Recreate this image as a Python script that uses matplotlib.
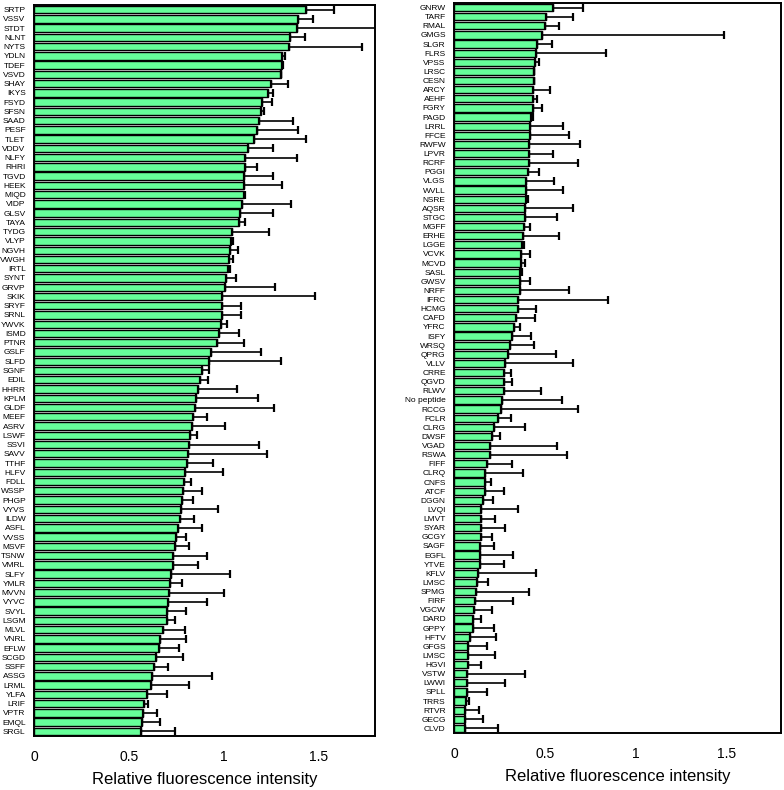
import matplotlib.pyplot as plt
import numpy as np

plt.rcParams['font.family'] = ['Liberation Sans', 'DejaVu Sans']

# left panel: peptide, mean, upper end of error bar
left_names = ["SRTP", "VSSV", "STDT", "NLNT", "NYTS", "YDLN", "TDEF", "VSVD", "SHAY", "IKYS",
              "FSYD", "SFSN", "SAAD", "PESF", "TLET", "VDDV", "NLFY", "RHRI", "TGVD", "HEEK",
              "MIQD", "VIDP", "GLSV", "TAYA", "TYDG", "VLYP", "NGVH", "VWGH", "IRTL", "SYNT",
              "GRVP", "SKIK", "SRYF", "SRNL", "YWVK", "ISMD", "PTNR", "GSLF", "SLFD", "SGNF",
              "EDIL", "HHRR", "KPLM", "GLDF", "MEEF", "ASRV", "LSWF", "SSVI", "SAVV", "TTHF",
              "HLFV", "FDLL", "WSSP", "PHGP", "VYVS", "ILDW", "ASFL", "VVSS", "MSVF", "TSNW",
              "VMRL", "SLFY", "YMLR", "MVVN", "VYVC", "SVYL", "LSGM", "MLVL", "VNRL", "EFLW",
              "SCGD", "SSFF", "ASSG", "LRML", "YLFA", "LRIF", "VPTR", "EMQL", "SRGL"]
left_vals = [1.435, 1.396, 1.388, 1.353, 1.346, 1.311, 1.309, 1.305, 1.249, 1.237,
             1.205, 1.198, 1.188, 1.179, 1.160, 1.130, 1.116, 1.114, 1.111, 1.107,
             1.107, 1.096, 1.088, 1.082, 1.044, 1.040, 1.032, 1.028, 1.026, 1.016,
             1.007, 0.995, 0.991, 0.991, 0.988, 0.979, 0.968, 0.935, 0.926, 0.886,
             0.875, 0.867, 0.856, 0.849, 0.840, 0.835, 0.821, 0.818, 0.812, 0.807,
             0.796, 0.793, 0.786, 0.779, 0.775, 0.770, 0.760, 0.747, 0.744, 0.733,
             0.732, 0.723, 0.719, 0.711, 0.709, 0.702, 0.700, 0.679, 0.663, 0.661,
             0.646, 0.633, 0.625, 0.616, 0.595, 0.581, 0.574, 0.568, 0.567]
left_top = [1.584, 1.474, 1.95, 1.432, 1.733, 1.326, 1.312, 1.305, 1.340, 1.260,
            1.256, 1.212, 1.365, 1.393, 1.435, 1.260, 1.389, 1.175, 1.260, 1.309,
            1.116, 1.358, 1.263, 1.112, 1.239, 1.053, 1.077, 1.053, 1.035, 1.067,
            1.270, 1.484, 1.091, 1.091, 1.019, 1.082, 1.107, 1.200, 1.304, 0.923,
            0.916, 1.070, 1.182, 1.268, 0.912, 1.007, 0.863, 1.186, 1.232, 0.947,
            1.000, 0.828, 0.888, 0.839, 0.972, 0.844, 0.888, 0.804, 0.819, 0.914,
            0.867, 1.037, 0.781, 1.002, 0.914, 0.802, 0.742, 0.798, 0.804, 0.765,
            0.788, 0.707, 0.937, 0.816, 0.702, 0.600, 0.647, 0.663, 0.746]

# right panel
right_names = ["GNRW", "TARF", "RMAL", "GMGS", "SLGR", "FLRS", "VPSS", "LRSC", "CESN", "ARCY",
               "AEHF", "FGRY", "PAGD", "LRRL", "FFCE", "RWFW", "LPVR", "RCRF", "PGGI", "VLGS",
               "WVLL", "NSRE", "AQSR", "STGC", "MGFF", "ERHE", "LGGE", "VCVK", "MCVD", "SASL",
               "GWSV", "NRFF", "IFRC", "HCMG", "CAFD", "YFRC", "ISFY", "WRSQ", "QPRG", "VLLV",
               "CRRE", "QGVD", "RLWV", "No peptide", "RCCG", "FCLR", "CLRG", "DWSF", "VGAD", "RSWA",
               "FIFF", "CLRQ", "CNFS", "ATCF", "DGGN", "LVQI", "LMVT", "SYAR", "GCGY", "SAGF",
               "EGFL", "YTVE", "KFLV", "LMSC", "SPMG", "FIRF", "VGCW", "DARD", "GPPY", "HFTV",
               "GFGS", "LMSC", "HGVI", "VSTW", "LWWI", "SPLL", "TRRS", "RTVR", "GECG", "CLVD"]
right_vals = [0.547, 0.508, 0.501, 0.483, 0.459, 0.449, 0.446, 0.440, 0.438, 0.435,
              0.433, 0.433, 0.422, 0.420, 0.418, 0.413, 0.413, 0.411, 0.405, 0.398,
              0.396, 0.396, 0.392, 0.390, 0.387, 0.381, 0.374, 0.370, 0.368, 0.365,
              0.363, 0.363, 0.354, 0.352, 0.344, 0.331, 0.319, 0.306, 0.297, 0.282,
              0.276, 0.274, 0.273, 0.262, 0.256, 0.241, 0.221, 0.210, 0.197, 0.199,
              0.179, 0.173, 0.171, 0.171, 0.160, 0.151, 0.151, 0.149, 0.149, 0.145,
              0.142, 0.142, 0.134, 0.125, 0.120, 0.118, 0.112, 0.105, 0.103, 0.088,
              0.077, 0.077, 0.076, 0.074, 0.074, 0.072, 0.066, 0.063, 0.063, 0.061]
right_top = [0.711, 0.656, 0.578, 1.488, 0.540, 0.838, 0.470, 0.440, 0.438, 0.530,
             0.459, 0.484, 0.436, 0.599, 0.635, 0.691, 0.543, 0.685, 0.466, 0.549,
             0.600, 0.407, 0.656, 0.569, 0.416, 0.578, 0.383, 0.416, 0.390, 0.374,
             0.416, 0.634, 0.847, 0.451, 0.446, 0.361, 0.424, 0.442, 0.560, 0.657,
             0.315, 0.317, 0.481, 0.593, 0.683, 0.313, 0.392, 0.252, 0.569, 0.624,
             0.322, 0.379, 0.206, 0.273, 0.217, 0.352, 0.223, 0.278, 0.208, 0.221,
             0.324, 0.274, 0.451, 0.186, 0.414, 0.324, 0.210, 0.149, 0.221, 0.230,
             0.182, 0.223, 0.149, 0.390, 0.278, 0.182, 0.085, 0.136, 0.160, 0.241]

xticks = [0, 0.5, 1, 1.5]
xticklabels = ["0", "0.5", "1", "1.5"]


def draw_panel(ax, names, vals, tops):
    vals = np.array(vals)
    err = np.array(tops) - vals
    y = np.arange(len(names))
    ax.barh(y, vals, height=0.8, color='#66ff99', edgecolor='black', linewidth=1.0,
            xerr=[np.zeros(len(vals)), err],
            error_kw=dict(ecolor='black', elinewidth=1.2, capsize=3.2, capthick=1.6))
    ax.set_ylim(len(names) - 0.5, -0.5)
    ax.set_xlim(0, 1.8)
    ax.set_yticks(y)
    ax.set_yticklabels(names, fontsize=6)
    ax.set_xticks(xticks)
    ax.set_xticklabels(xticklabels, fontsize=10)
    ax.tick_params(axis='y', length=0, pad=6)
    ax.tick_params(axis='x', length=0, pad=10)
    for s in ax.spines.values():
        s.set_linewidth(1.4)
    ax.set_xlabel("Relative fluorescence intensity", fontsize=12, labelpad=6)


fig = plt.figure(figsize=(7.84, 7.9), dpi=100)
ax1 = fig.add_axes([34 / 784, 1 - 736 / 790, 341 / 784, 731 / 790])
ax2 = fig.add_axes([454 / 784, 1 - 733 / 790, 327 / 784, 730 / 790])

draw_panel(ax1, left_names, left_vals, left_top)
draw_panel(ax2, right_names, right_vals, right_top)

fig.savefig("out.png", dpi=100)
